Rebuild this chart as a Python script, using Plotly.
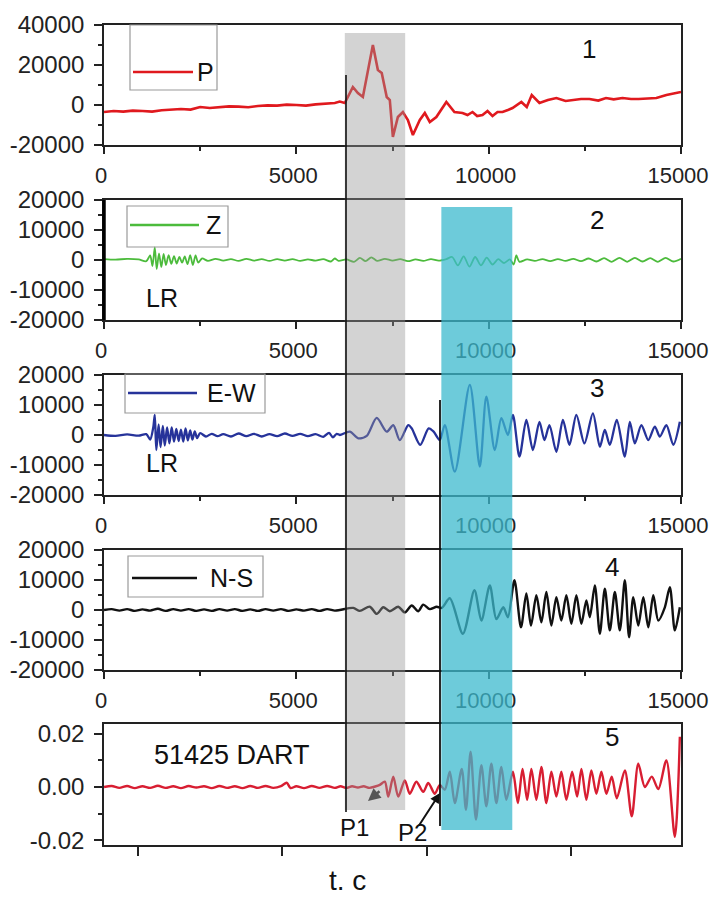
import plotly.graph_objects as go

# The page places the figure 8 px from the top-left corner and its
# container is 701 px wide, so the figure is sized to that visible area
# and every reference pixel position is shifted by the offset.
OFF = 8
W, H = 701, 889
def px(x):
    return (x - OFF) / W
def py(y):
    return 1 - (y - OFF) / H

# ---------------- data ----------------
x_ticks = [0, 5000, 10000, 15000]
x_labels = ["0", "5000", "10000", "15000"]
x_minor = [2500, 7500, 12500]
dart_ticks = [880, 4640, 8400, 12150]

p_ticks = [-20000, 0, 20000, 40000]
p_labels = ["-20000", "0", "20000", "40000"]
p_minor = [-10000, 10000, 30000]
s_ticks = [-20000, -10000, 0, 10000, 20000]
s_labels = ["-20000", "-10000", "0", "10000", "20000"]
s_minor = [-15000, -5000, 5000, 15000]
d_ticks = [-0.02, 0.0, 0.02]
d_labels = ["-0.02", "0.00", "0.02"]
d_minor = [-0.01, 0.01]

P_t = [0, 250, 500, 750, 1000, 1250, 1500, 1750, 2000, 2250, 2500, 2750, 3000, 3250, 3500,
       3750, 4000, 4250, 4500, 4750, 5000, 5250, 5500, 5750, 6000, 6130,
       6260, 6470, 6600, 6730, 6990, 7120, 7220, 7350, 7430, 7510, 7640, 7770, 7900, 8030,
       8210, 8340, 8470, 8640, 8900, 9110, 9320, 9450, 9580, 9700, 9840, 9970, 10100, 10230,
       10360, 10500, 10620, 10850, 10990, 11120, 11320, 11540, 11760, 12000, 12200, 12400,
       12620, 12850, 13050, 13250, 13480, 13700, 13900, 14150, 14360, 14620, 15000]
P_v = [-3500, -3000, -3300, -2800, -3000, -3300, -2600, -2200, -2000, -2300, -1000, -1500,
       -1200, -700, -800, -1100, -500, -200, -300, 200, 0, -300, 300, 600, 1000, 1700,
       1000, 9000, 6000, 4000, 30000, 17500, 16000, 4000, 2500, -16000, -6000, -3500, -7500, -15000,
       -7500, -4000, -8500, -6000, 1500, -3500, -4000, -5000, -3500, -5500, -5000, -3000, -5500, -3500,
       -3500, -2500, -1500, 1500, -1000, 5000, 1000, 2500, 3500, 2000, 2500, 3000,
       3000, 2200, 3500, 2800, 3500, 3000, 3000, 3300, 3500, 5000, 6500]

Z_t = [0, 300, 600, 900, 1100, 1200, 1260, 1320, 1370, 1430, 1490, 1550, 1610, 1680, 1750,
       1820, 1890, 1960, 2030, 2100, 2170, 2240, 2310, 2380, 2450, 2550, 2700, 2900, 3100,
       3300, 3500, 3700, 3900, 4100, 4300, 4500, 4700, 4900, 5100, 5300, 5500, 5700, 5900,
       6000, 6100, 6300, 6500, 6650, 6800, 6950, 7100, 7300, 7500, 7700, 7900, 8100, 8300,
       8500, 8700, 8900, 9050, 9200, 9350, 9500, 9650, 9800, 9950, 10100, 10250, 10400,
       10550, 10650, 10720, 10800, 11000, 11200, 11400, 11600, 11800, 12000, 12200, 12400,
       12600, 12800, 13000, 13200, 13400, 13600, 13800, 14000, 14200, 14400, 14600, 14800, 15000]
Z_v = [300, 100, 400, 200, -400, 1500, -2000, 4200, -3000, 2200, -2300, 2000, -1700, 1600, -1300,
       1300, -1200, 1000, -900, 1200, -1400, 1600, -1700, 1500, -900, 500, -300, 400, -200,
       300, -300, 400, -200, 300, -300, 300, -200, 300, -300, 200, -200, 300, -500,
       500, -300, 200, -600, 700, -400, 900, -300, 400, -200, 300, -400, 200, -300,
       300, -200, 300, 1000, -1800, 1200, -2200, 1000, -1800, 800, -1500, 300, -1000,
       200, -1500, 1500, -600, 200, -300, 300, -400, 300, -300, 400, -400,
       500, -500, 600, -600, 700, -600, 700, -500, 600, -600, 700, -500, 400]

EW_t = [0, 300, 600, 900, 1100, 1200, 1280, 1320, 1360, 1420, 1470, 1530, 1580, 1640, 1700,
        1760, 1820, 1880, 1940, 2000, 2060, 2120, 2180, 2240, 2300, 2360, 2420, 2500, 2650,
        2800, 2950, 3100, 3300, 3500, 3700, 3900, 4100, 4300, 4500, 4700, 4900, 5100, 5300,
        5500, 5700, 5850, 5950, 6050, 6130, 6390, 6610, 6830, 7090, 7350, 7520, 7690, 7910,
        8000, 8220, 8440, 8570, 8730, 8860, 9120, 9510, 9770, 9940, 10160, 10330, 10500,
        10630, 10800, 10980, 11150, 11320, 11450, 11580, 11760, 11930, 12100, 12280, 12490,
        12710, 12890, 13020, 13150, 13330, 13540, 13670, 13800, 13970, 14150, 14320, 14450,
        14620, 14800, 14970]
EW_v = [0, -300, 200, -200, 300, -1500, 2500, 6700, -5000, 3500, -4000, 3000, -3500, 2500, -2800,
        2500, -2200, 2000, -2000, 1800, -2200, 2200, -1800, 1500, -1500, 1200, -1000, 600, -500,
        400, -400, 300, -500, 500, -400, 400, -500, 300, -400, 500, -300, 400, -400,
        300, -600, 700, -800, 400, 0, 1100, -1100, -300, 5700, 1100, 3300, -1700, 3300,
        2200, -3300, 2200, 1100, -1700, 3300, -12200, 16700, -10500, 12800, -5000, 5600, 0,
        6700, -7200, 5000, -5000, 4400, -1700, 3300, -5600, 5000, -3300, 6700, -2800,
        7200, -3900, 1700, -3300, 5000, -7200, 4400, -2800, 3300, -1700, 2800, -500,
        3300, -3300, 4400]

NS_t = [0, 200, 400, 600, 800, 1000, 1200, 1400, 1600, 1800, 2000, 2200, 2400, 2600, 2800,
        3000, 3200, 3400, 3600, 3800, 4000, 4200, 4400, 4600, 4800, 5000, 5200, 5400, 5600,
        5800, 6000, 6130, 6480, 6650, 6910, 7090, 7260, 7430, 7650, 7820, 8000, 8170, 8300,
        8470, 8650, 8780, 8990, 9330, 9630, 9810, 10030, 10200, 10380, 10500, 10670, 10840,
        10980, 11100, 11240, 11370, 11500, 11630, 11760, 11890, 12020, 12150, 12280, 12410,
        12540, 12630, 12760, 12890, 13020, 13150, 13280, 13410, 13540, 13650, 13760, 13890,
        14020, 14150, 14280, 14410, 14580, 14710, 14840, 14970]
NS_v = [0, 300, -200, 300, -300, 200, -200, 400, -300, 300, -200, 300, -300, 200, -300,
        300, -200, 300, -300, 200, -300, 300, -200, 300, -300, 200, -200, 300, -300,
        300, -200, 0, 700, -300, 1100, -1300, 900, -400, 1100, -800, 1500, -400, 1800,
        300, 1100, 700, 3900, -7900, 6600, -3500, 8200, -3000, 900, -2400, 9900, -5800,
        5500, -5200, 4900, -4100, 6000, -5200, 4300, -3500, 4900, -4600, 4900, -4600,
        3200, -2400, 8200, -7900, 7100, -6800, 6000, -6800, 9900, -9100, 4300, -5200,
        4300, -5800, 4900, -3500, 900, 7600, -6800, 900]

D_t = [0, 200, 400, 600, 800, 1000, 1200, 1400, 1600, 1800, 2000, 2200, 2400, 2600, 2800,
       3000, 3200, 3400, 3600, 3800, 4000, 4200, 4400, 4600, 4750, 4850, 5000, 5200, 5400,
       5600, 5800, 6000, 6150, 6300, 6450, 6600, 6750, 6900, 7050, 7170, 7300, 7390, 7520,
       7650, 7820, 7950, 8120, 8300, 8430, 8600, 8730, 8860, 8990, 9120, 9300, 9410, 9530,
       9670, 9810, 9940, 10070, 10200, 10330, 10460, 10630, 10760, 10880, 11000, 11110,
       11240, 11370, 11500, 11630, 11760, 11890, 12020, 12170, 12300, 12410, 12540, 12670,
       12800, 12930, 13060, 13200, 13330, 13540, 13720, 13890, 14060, 14240, 14410, 14620,
       14840, 14970]
D_v = [0.0, 0.0004, -0.0003, 0.0004, -0.0004, 0.0003, -0.0003, 0.0005, -0.0003, 0.0003, -0.0004,
       0.0004, -0.0002, 0.0003, -0.0004, 0.0004, -0.0003, 0.0003, -0.0004, 0.0004, -0.0003,
       0.0004, -0.0003, 0.0003, 0.0016, -0.0004, 0.0003, -0.0004, 0.0004, -0.0003, 0.0004,
       -0.0003, 0.0003, -0.0003, 0.0003, -0.0002, 0.0003, -0.0003, 0.0002, 0.0008, 0.002,
       -0.0036, 0.0039, -0.0036, 0.0025, -0.0025, 0.002, -0.0018, 0.0015, -0.0025, 0.0008,
       -0.001, 0.0057, -0.006, 0.0068, -0.0085, 0.0132, -0.0122, 0.0082, -0.0072, 0.0087,
       -0.006, 0.0075, -0.0048, 0.0057, -0.006, 0.0068, -0.0048, 0.0068, -0.0048, 0.0075,
       -0.006, 0.0057, -0.0036, 0.0057, -0.0048, 0.0057, -0.0036, 0.0068, -0.0048, 0.0062,
       -0.0025, 0.0057, -0.0025, 0.0039, -0.0042, 0.0062, -0.011, 0.0087, 0.0, 0.0039,
       -0.0008, 0.01, -0.0186, 0.0188]

series_names = ["P", "Z", "E-W", "N-S", "51425 DART"]
series_colors = ["#e0191e", "#4cbb3c", "#26339a", "#111111", "#d81e32"]

# ---------------- figure ----------------
FONT = "Liberation Sans, Arial, sans-serif"
INK = "#222222"
YTICK_FS = 24
XTICK_FS = 22

fig = go.Figure()
data = [(P_t, P_v, "linear"), (Z_t, Z_v, "spline"), (EW_t, EW_v, "spline"),
        (NS_t, NS_v, "spline"), (D_t, D_v, "spline")]
widths = [2.6, 1.8, 2.3, 2.4, 2.4]
for i, (t, v, shape) in enumerate(data):
    sfx = "" if i == 0 else str(i + 1)
    fig.add_trace(go.Scatter(x=t, y=v, mode="lines", name=series_names[i],
                             xaxis="x" + sfx, yaxis="y" + sfx, showlegend=False,
                             line=dict(color=series_colors[i], width=widths[i], shape=shape,
                                       smoothing=0.8 if shape == "spline" else None)))

panel_px = [(25, 145), (200, 320), (375, 495), (550, 670), (724, 845)]
y_ranges = [[-20000, 40000], [-20000, 20000], [-20000, 20000], [-20000, 20000], [-0.0217, 0.0236]]
y_tick_sets = [(p_ticks, p_labels, p_minor), (s_ticks, s_labels, s_minor),
               (s_ticks, s_labels, s_minor), (s_ticks, s_labels, s_minor),
               (d_ticks, d_labels, d_minor)]

layout = dict(width=W, height=H, autosize=False,
              margin=dict(l=0, r=0, t=0, b=0, autoexpand=False),
              paper_bgcolor="white", plot_bgcolor="rgba(0,0,0,0)",
              font=dict(family=FONT, color=INK, size=YTICK_FS), showlegend=False)

for i in range(5):
    sfx = "" if i == 0 else str(i + 1)
    top, bot = panel_px[i]
    xa = dict(domain=[px(104), px(681)], range=[0, 15000], anchor="y" + sfx, automargin=False,
              showline=True, mirror=True, linecolor=INK, linewidth=1.6,
              ticks="outside", ticklen=7, tickwidth=1.6, tickcolor=INK,
              showgrid=False, zeroline=False,
              tickfont=dict(size=XTICK_FS, family=FONT, color=INK),
              ticklabelstandoff=3, ticklabelshift=-3)
    if i < 4:
        xa.update(tickmode="array", tickvals=x_ticks, ticktext=x_labels,
                  minor=dict(tickmode="array", tickvals=x_minor, ticks="outside", ticklen=4,
                             tickwidth=1.6, tickcolor=INK))
    else:
        xa.update(tickmode="array", tickvals=dart_ticks, showticklabels=False, ticklen=9)
    tv, tt, mn = y_tick_sets[i]
    ya = dict(domain=[py(bot), py(top)], range=y_ranges[i], anchor="x" + sfx, automargin=False,
              showline=True, mirror=True, linecolor=INK, linewidth=1.6,
              ticks="outside", ticklen=8, tickwidth=1.6, tickcolor=INK,
              showgrid=False, zeroline=False, tickmode="array", tickvals=tv, ticktext=tt,
              minor=dict(tickmode="array", tickvals=mn, ticks="outside", ticklen=4,
                         tickwidth=1.6, tickcolor=INK),
              tickfont=dict(size=YTICK_FS, family=FONT, color=INK), ticklabelstandoff=5)
    layout["xaxis" + sfx] = xa
    layout["yaxis" + sfx] = ya

shapes = []
# shaded windows (drawn over the traces, translucent)
shapes.append(dict(type="rect", xref="x", yref="paper", x0=6260, x1=7830,
                   y0=py(810), y1=py(33), fillcolor="rgba(150,150,150,0.42)",
                   line=dict(width=0), layer="above"))
shapes.append(dict(type="rect", xref="x", yref="paper", x0=8770, x1=10614,
                   y0=py(830), y1=py(207), fillcolor="rgba(60,185,205,0.75)",
                   line=dict(width=0), layer="above"))
# onset markers
shapes.append(dict(type="line", xref="paper", yref="paper", x0=px(346), x1=px(346),
                   y0=py(75), y1=py(812), line=dict(color="#111", width=1.6), layer="above"))
shapes.append(dict(type="line", xref="paper", yref="paper", x0=px(440), x1=px(440),
                   y0=py(400), y1=py(826), line=dict(color="#111", width=1.8), layer="above"))
# thick left axis of panel 2
shapes.append(dict(type="line", xref="paper", yref="paper", x0=px(104), x1=px(104),
                   y0=py(200), y1=py(320), line=dict(color="#000", width=3.5), layer="above"))

# legend boxes (x0, x1, y0, y1, line x0, line x1, line y, text x)
legend_boxes = [(130, 217, 25, 90, 133, 193, 72, 205),
                (127, 228, 206, 247, 130, 199, 225, 213),
                (125, 265, 374, 413, 128, 197, 393, 231),
                (128, 263, 556, 597, 132, 197, 578, 231)]
annotations = []
for k, (bx0, bx1, by0, by1, lx0, lx1, ly, tx) in enumerate(legend_boxes):
    shapes.append(dict(type="rect", xref="paper", yref="paper", x0=px(bx0), x1=px(bx1),
                       y0=py(by1), y1=py(by0), fillcolor="rgba(255,255,255,0)",
                       line=dict(color="#9a9a9a", width=1.2), layer="above"))
    shapes.append(dict(type="line", xref="paper", yref="paper", x0=px(lx0), x1=px(lx1),
                       y0=py(ly), y1=py(ly), line=dict(color=series_colors[k], width=2.5),
                       layer="above"))
    annotations.append(dict(text=series_names[k], xref="paper", yref="paper",
                            x=px(tx), y=py(ly), xanchor="center", yanchor="middle",
                            showarrow=False, font=dict(size=25, family=FONT, color="#111")))

def label(text, x, y, size=25, color="#111"):
    annotations.append(dict(text=text, xref="paper", yref="paper", x=px(x), y=py(y),
                            xanchor="center", yanchor="middle", showarrow=False,
                            font=dict(size=size, family=FONT, color=color)))

for num, (lx, ly) in zip(["1", "2", "3", "4", "5"],
                         [(589, 49), (597, 220), (597, 388), (612, 567), (612, 737)]):
    label(num, lx, ly, size=26)
label("LR", 162, 298)
label("LR", 162, 463)
label("51425 DART", 232, 755, size=27)
label("P1", 354, 827, size=24)
label("P2", 412, 832, size=24)
label("t. c", 347, 880, size=28)

# arrows
annotations.append(dict(text="", xref="paper", yref="paper", x=px(440), y=py(793),
                        ax=-22, ay=34, showarrow=True, arrowhead=2, arrowsize=1,
                        arrowwidth=2, arrowcolor="#111"))
annotations.append(dict(text="", xref="paper", yref="paper", x=px(368), y=py(801),
                        ax=13, ay=-11, showarrow=True, arrowhead=2, arrowsize=1,
                        arrowwidth=2.5, arrowcolor="#555"))

layout["shapes"] = shapes
layout["annotations"] = annotations
fig.update_layout(**layout)
fig.write_html("out.html")
